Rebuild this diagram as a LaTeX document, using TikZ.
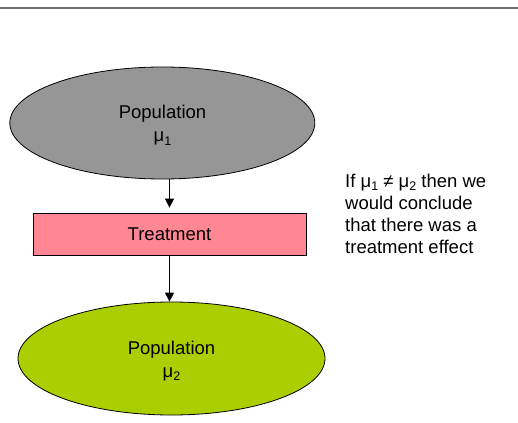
\documentclass[tikz,border=0pt]{standalone}
\usepackage{fontspec}
\setmainfont{Liberation Sans}
\usetikzlibrary{shapes.geometric,arrows.meta}
\definecolor{popgray}{HTML}{969696}
\definecolor{treatpink}{HTML}{FF8794}
\definecolor{popgreen}{HTML}{AACF00}
\definecolor{rulegray}{HTML}{707070}
\newcommand{\mysub}[1]{\raisebox{-3.5pt}{\fontsize{12.5}{12.5}\selectfont #1}}
\tikzset{
  popshape/.style={draw=black, line width=0.8pt, ellipse, inner sep=0pt},
  treatbox/.style={draw=black, line width=0.8pt, fill=treatpink, rectangle, inner sep=0pt,
    minimum width=273pt, minimum height=42pt, font=\fontsize{18.5}{22}\selectfont},
  txt/.style={anchor=base, inner sep=0pt, font=\fontsize{18.5}{22}\selectfont},
  flow/.style={line width=1.5pt, -{Triangle[width=9pt,length=9pt]}},
}
\begin{document}
\begin{tikzpicture}[x=1pt,y=-1pt]
\useasboundingbox (0,0) rectangle (518,422);
\coordinate (ruleL) at (0,7.7);
\coordinate (ruleR) at (518,7.7);
\draw[rulegray, line width=2pt] (ruleL) -- (ruleR);

\node[popshape, fill=popgray, minimum width=305pt, minimum height=112pt] (pop1) at (162.3,123) {};
\node[txt] (pop1a) at (162.5,119) {Population};
\node[txt] (pop1b) at (162.5,142) {μ\mysub{1}};

\node[treatbox] (treat) at (169.5,234) {Treatment};

\node[popshape, fill=popgreen, minimum width=307pt, minimum height=113pt] (pop2) at (171.5,358.5) {};
\node[txt] (pop2a) at (171.5,354) {Population};
\node[txt] (pop2b) at (171.5,377) {μ\mysub{2}};

\node[txt, anchor=base west, align=left] (note) at (345,253)
  {If μ\mysub{1} ≠ μ\mysub{2} then we\\would conclude\\that there was a\\treatment effect};

\draw[flow, shorten >=5pt] (treat.north |- pop1.south) -- (treat.north);
\draw[flow] (treat.south) -- (treat.south |- pop2.north);
\end{tikzpicture}
\end{document}
